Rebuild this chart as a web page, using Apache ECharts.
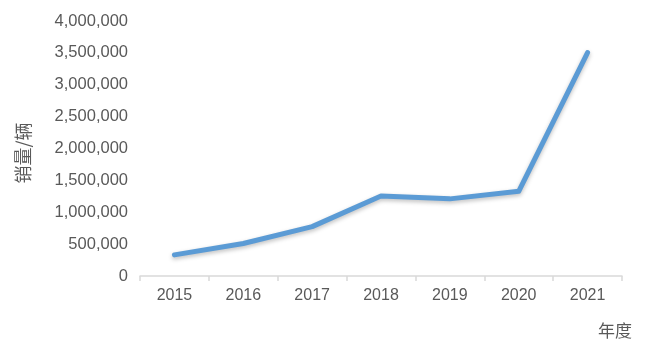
<!DOCTYPE html>
<html>
<head>
<meta charset="utf-8">
<script src="https://cdn.jsdelivr.net/npm/echarts@6/dist/echarts.min.js"></script>
<style>html,body{margin:0;padding:0;background:#fff;}#c{width:661px;height:364px;}</style>
</head>
<body>
<div id="c"></div>
<script>
var categories = ['2015', '2016', '2017', '2018', '2019', '2020', '2021'];
var sales = [331000, 510000, 775000, 1256000, 1210000, 1328000, 3505000];
var yName = '销量/辆';
var xName = '年度';

var chart = echarts.init(document.getElementById('c'));
var font = '"Liberation Sans", "Noto Sans CJK SC", sans-serif';
chart.setOption({
  animation: false,
  backgroundColor: '#fff',
  grid: { left: 140, right: 39, top: 21, bottom: 88 },
  xAxis: {
    type: 'category',
    data: categories,
    boundaryGap: true,
    axisLine: { lineStyle: { color: '#D9D9D9', width: 1.5 } },
    axisTick: { show: true, length: 5, lineStyle: { color: '#D9D9D9', width: 1.5 } },
    axisLabel: { color: '#595959', fontSize: 16, margin: 12, fontFamily: font }
  },
  yAxis: {
    type: 'value',
    min: 0, max: 4000000, interval: 500000,
    axisLine: { show: false },
    axisTick: { show: false },
    splitLine: { show: false },
    axisLabel: {
      color: '#595959', fontSize: 16.5, margin: 12, fontFamily: font,
      formatter: function (v) { return v.toLocaleString('en-US'); }
    }
  },
  graphic: [{
    type: 'text',
    x: 23, y: 153,
    rotation: Math.PI / 2,
    style: { text: yName, fill: '#595959', font: '18px "Noto Sans CJK SC", sans-serif', align: 'center', verticalAlign: 'middle' }
  }, {
    type: 'text',
    x: 615, y: 331,
    style: { text: xName, fill: '#595959', font: '17px "Noto Sans CJK SC", sans-serif', align: 'center', verticalAlign: 'middle' }
  }],
  series: [{
    type: 'line',
    data: sales,
    symbol: 'none',
    lineStyle: {
      color: '#5B9BD5', width: 5, cap: 'round', join: 'round',
      shadowColor: 'rgba(0,0,0,0.25)', shadowBlur: 4, shadowOffsetY: 2
    }
  }]
});
</script>
</body>
</html>
